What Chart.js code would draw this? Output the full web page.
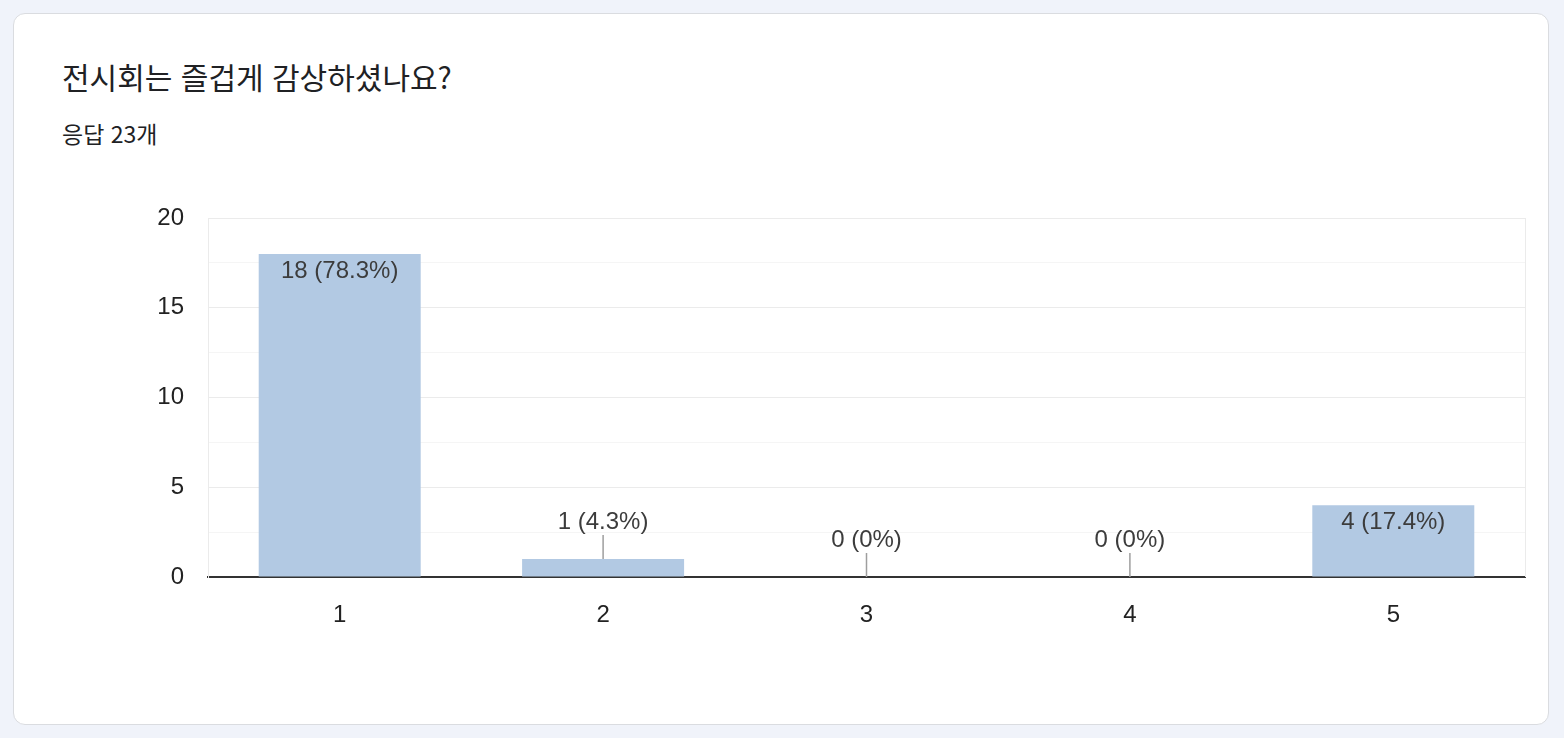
<!DOCTYPE html>
<html lang="ko">
<head>
<meta charset="utf-8">
<script src="https://cdn.jsdelivr.net/npm/chart.js@4"></script>
<style>
  html, body { margin: 0; padding: 0; }
  body {
    width: 1564px; height: 738px; background: #f0f3fa; position: relative; overflow: hidden;
    font-family: Roboto, "Noto Sans CJK KR", "Noto Sans", sans-serif; color: #202124;
  }
  .card {
    position: absolute; left: 13px; top: 13px; width: 1536px; height: 712px;
    background: #fff; border: 1px solid #dadce0; border-radius: 12px; box-sizing: border-box;
  }
  .title {
    position: absolute; left: 62px; top: 56px; font-size: 30px; line-height: 40px;
    font-family: "Noto Sans CJK KR", Roboto, sans-serif; color: #202124;
  }
  .sub {
    position: absolute; left: 62px; top: 118px; font-size: 23px; line-height: 30px;
    font-family: "Noto Sans CJK KR", Roboto, sans-serif; color: #202124;
  }
  #chart { position: absolute; left: 0; top: 0; }
</style>
</head>
<body>
<div class="card"></div>
<div class="title">전시회는 즐겁게 감상하셨나요?</div>
<div class="sub">응답 23개</div>
<canvas id="chart" width="1564" height="738"></canvas>
<script>
// 데이터
const categories = ['1', '2', '3', '4', '5'];
const counts = [18, 1, 0, 0, 4];
const yTicks = [0, 5, 10, 15, 20];

const total = counts.reduce((a, b) => a + b, 0);
const labelFont = '"Liberation Sans", Arial, sans-serif';

// 막대 위/안에 "값 (비율%)" 라벨 그리기
const barLabels = {
    id: 'barLabels',
    afterDatasetsDraw(chart) {
        const ctx = chart.ctx;
        const meta = chart.getDatasetMeta(0);
        ctx.save();
        ctx.font = '24px ' + labelFont;
        ctx.textAlign = 'center';
        ctx.textBaseline = 'middle';
        meta.data.forEach((bar, i) => {
            const v = counts[i];
            let pct = total ? (v / total * 100).toFixed(1) : '0';
            if (pct.endsWith('.0')) pct = pct.slice(0, -2);
            const text = v + ' (' + pct + '%)';
            const h = bar.base - bar.y;
            if (h > 40) {
                ctx.fillStyle = '#3c3c3c';
                ctx.fillText(text, bar.x, bar.y + 17);
            } else {
                ctx.strokeStyle = '#9e9e9e';
                ctx.lineWidth = 1.5;
                ctx.beginPath();
                ctx.moveTo(bar.x, bar.y);
                ctx.lineTo(bar.x, bar.y - 24);
                ctx.stroke();
                ctx.fillStyle = '#3c3c3c';
                ctx.fillText(text, bar.x, bar.y - 37);
            }
        });
        // 오른쪽 테두리
        const a = chart.chartArea;
        ctx.strokeStyle = '#ebebeb';
        ctx.lineWidth = 1;
        ctx.beginPath();
        ctx.moveTo(a.right + 0.5, a.top);
        ctx.lineTo(a.right + 0.5, a.bottom);
        ctx.stroke();
        ctx.restore();
    }
};

new Chart(document.getElementById('chart').getContext('2d'), {
    type: 'bar',
    data: {
        labels: categories,
        datasets: [{
            data: counts,
            backgroundColor: '#b2c9e3',
            categoryPercentage: 1,
            barPercentage: 0.615
        }]
    },
    options: {
        responsive: false,
        animation: false,
        layout: { padding: { top: 218, right: 39, bottom: 0, left: 0 } },
        plugins: { legend: { display: false }, tooltip: { enabled: false } },
        scales: {
            x: {
                afterFit(scale) { scale.height = 161; },
                grid: { display: false },
                border: { display: true, color: '#333333', width: 2 },
                ticks: {
                    color: '#222222',
                    padding: 16,
                    font: { size: 24, family: labelFont }
                }
            },
            y: {
                min: 0,
                max: 20,
                afterFit(scale) { scale.width = 208; },
                afterBuildTicks(scale) {
                    // 2.5 간격 보조선, 라벨은 yTicks만
                    const t = [];
                    for (let i = 0; i < yTicks.length; i++) {
                        t.push({ value: yTicks[i] });
                        if (i < yTicks.length - 1) t.push({ value: (yTicks[i] + yTicks[i + 1]) / 2 });
                    }
                    scale.ticks = t.sort((a, b) => a.value - b.value);
                },
                grid: {
                    drawTicks: false,
                    color: (c) => yTicks.includes(c.tick.value) ? '#ebebeb' : '#f5f5f5'
                },
                border: { color: '#ebebeb', width: 1 },
                ticks: {
                    color: '#222222',
                    padding: 24,
                    font: { size: 24, family: labelFont },
                    callback: (v) => yTicks.includes(v) ? v : ''
                }
            }
        }
    },
    plugins: [barLabels]
});
</script>
</body>
</html>
